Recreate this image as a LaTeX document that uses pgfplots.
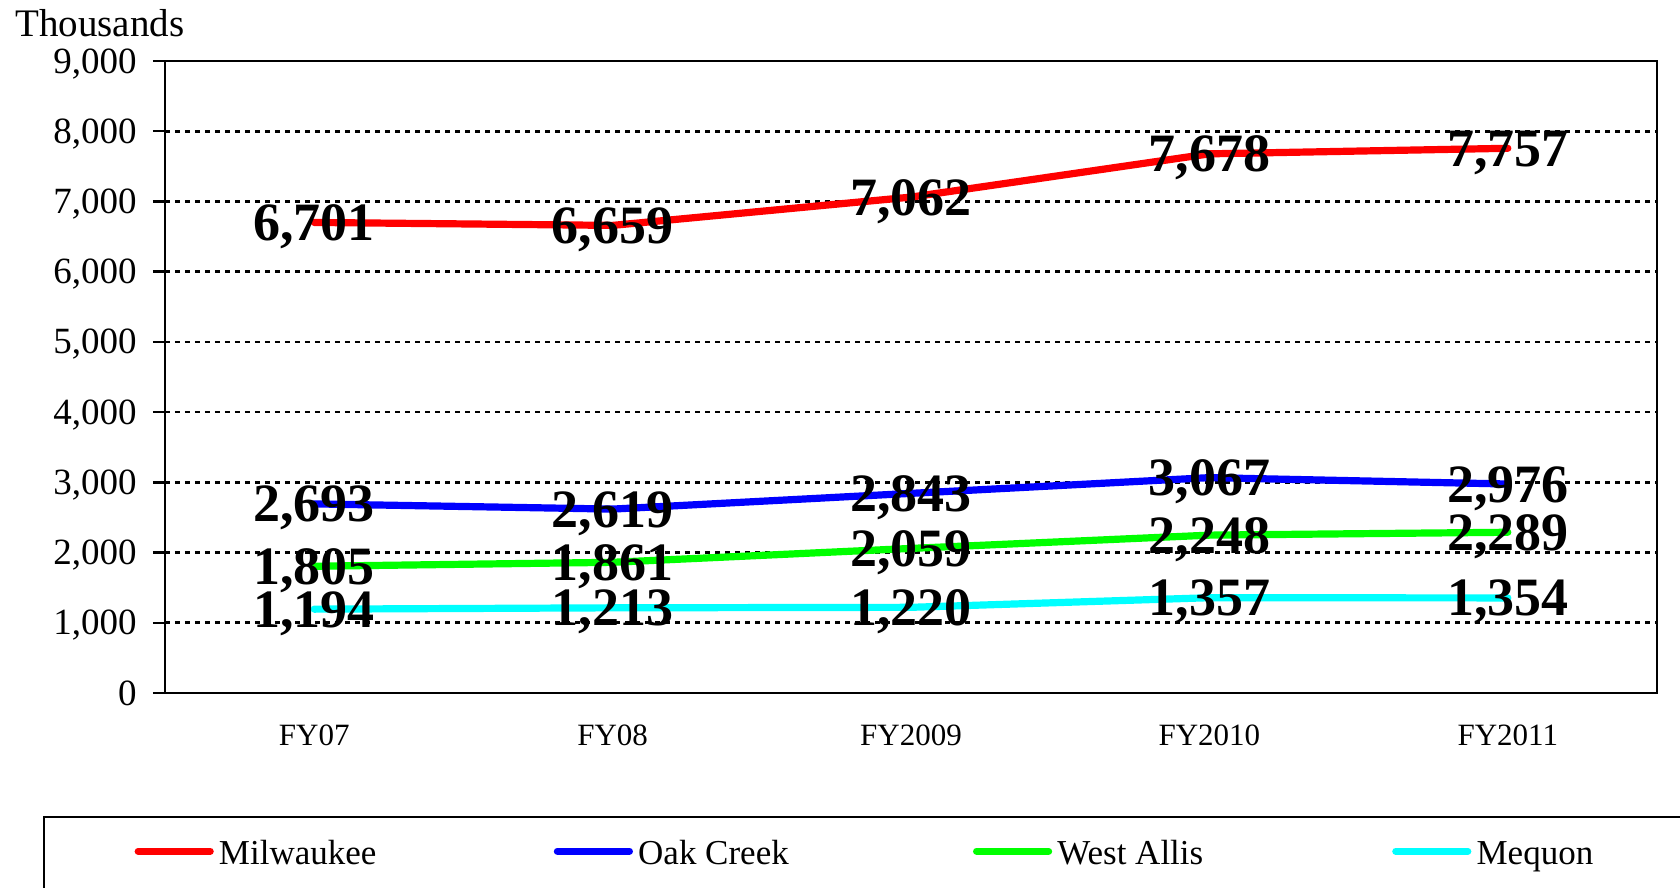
\documentclass[border=0pt]{standalone}
\usepackage{fontspec}
\setmainfont{Liberation Serif}
\usepackage{pgfplots}
\pgfplotsset{compat=1.18}
\begin{document}
\begin{tikzpicture}
\begin{axis}[
  at={(0,0)}, anchor=south west,
  scale only axis,
  width=746pt, height=316pt,
  xmin=-0.5, xmax=4.5,
  ymin=0, ymax=9000,
  xtick={0,1,2,3,4},
  xticklabels={FY07,FY08,FY2009,FY2010,FY2011},
  ytick={0,1000,...,9000},
  /pgf/number format/assume math mode=true,
  /pgf/number format/1000 sep={,},
  scaled y ticks=false,
  axis line style={black, line width=1.2pt},
  ymajorgrids,
  grid style={black, line width=1.3pt, dash pattern=on 2.5pt off 2.5pt},
  tick align=outside,
  ytick pos=left,
  major tick length=6pt,
  ytick style={black, line width=1.2pt},
  xtick style={draw=none},
  yticklabel style={font=\rmfamily\fontsize{18.5}{20}\selectfont, anchor=base east, inner sep=0pt, xshift=-8pt, yshift=-6pt},
  xticklabel style={font=\rmfamily\fontsize{15.5}{16}\selectfont, anchor=base, inner sep=0pt, yshift=-20pt},
  clip=false,
  nodes near coords={\pgfmathprintnumber{\pgfplotspointmeta}},
  nodes near coords style={font=\rmfamily\bfseries\fontsize{27}{27}\selectfont, text=black, anchor=base, inner sep=0pt, yshift=-9pt},
  every axis plot/.append style={line width=3.6pt, line cap=round, line join=round, no markers},
  legend columns=4,
  legend image code/.code={\draw[#1,line width=3.6pt,line cap=round] (0pt,1.5pt) -- (36pt,1.5pt);},
  legend style={
    at={(0,0)}, anchor=north west, xshift=-61pt, yshift=-61.5pt,
    draw=black, line width=1pt, fill=white,
    inner xsep=45.3pt, inner ysep=11.8pt,
    font=\rmfamily\fontsize{17.5}{18}\selectfont,
    nodes={inner sep=0pt},
    /tikz/every odd column/.append style={column sep=2.6pt},
    /tikz/every even column/.append style={column sep=0pt},
  },
]
\addplot[color={rgb,255:red,255;green,0;blue,0}] coordinates {(0,6701) (1,6659) (2,7062) (3,7678) (4,7757)};
\addlegendentry{\makebox[167.4pt][l]{Milwaukee}}
\addplot[color={rgb,255:red,0;green,0;blue,255}] coordinates {(0,2693) (1,2619) (2,2843) (3,3067) (4,2976)};
\addlegendentry{\makebox[167.4pt][l]{Oak Creek}}
\addplot[color={rgb,255:red,0;green,255;blue,0}] coordinates {(0,1805) (1,1861) (2,2059) (3,2248) (4,2289)};
\addlegendentry{\makebox[167.4pt][l]{West Allis}}
\addplot[color={rgb,255:red,0;green,255;blue,255}] coordinates {(0,1194) (1,1213) (2,1220) (3,1357) (4,1354)};
\addlegendentry{\makebox[167.4pt][l]{Mequon}}
\node[anchor=base west, inner sep=0pt, font=\rmfamily\fontsize{19.5}{20}\selectfont] at (rel axis cs:0,1) [xshift=-75pt, yshift=12.5pt] {Thousands};
\end{axis}
\pgfresetboundingbox
\useasboundingbox (-82.5pt,-97.5pt) rectangle (757.5pt,346.5pt);
\end{tikzpicture}
\end{document}
